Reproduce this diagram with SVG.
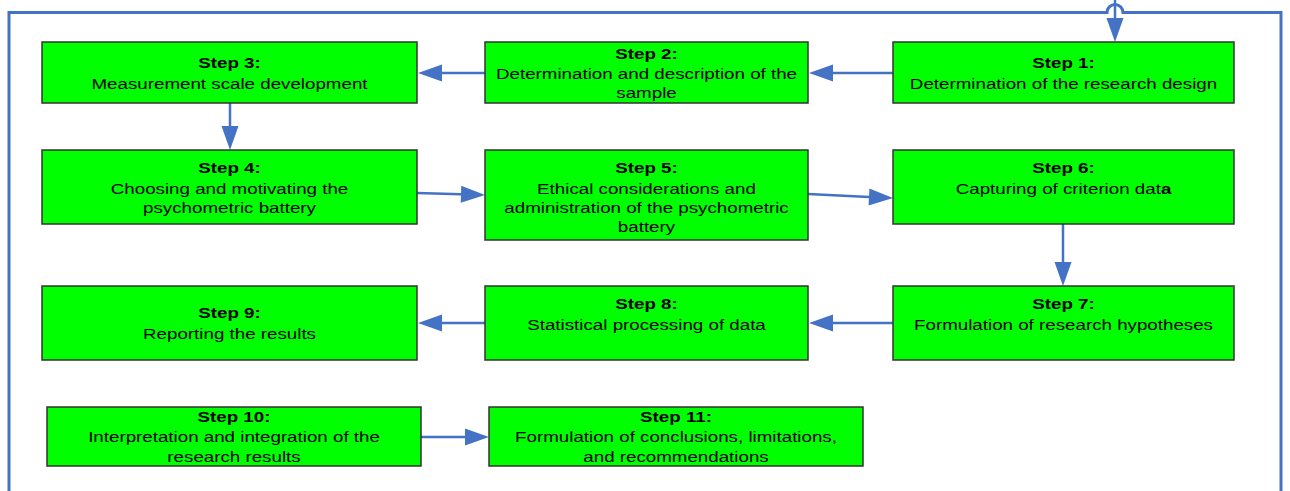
<svg xmlns="http://www.w3.org/2000/svg" width="1290" height="491" viewBox="0 0 1290 491">
<defs>
<style>
.box{fill:#00FF00;stroke:#333333;stroke-width:1.5}
.t{font-family:"Liberation Sans",Arial,sans-serif;font-size:15px;fill:#000;text-anchor:middle}
.b{font-weight:bold}
.c{fill:none;stroke:#4472C4;stroke-width:2.5}
.f{fill:none;stroke:#4472C4;stroke-width:3}
</style>
<marker id="ah" markerUnits="userSpaceOnUse" markerWidth="25" markerHeight="17" refX="0" refY="8.5" orient="auto" overflow="visible">
<path d="M0,0 L24,8.5 L0,17 Z" fill="#4472C4"/>
</marker>
</defs>
<rect width="1290" height="491" fill="#ffffff"/>
<g id="connectors">
<path class="f" d="M9,491 L9,12.5 L1107,12.5 A8,8 0 0 1 1123,12.5 L1281,12.5 L1281,491"/>
<line class="c" x1="1115" y1="0" x2="1115" y2="18" marker-end="url(#ah)"/>
<line class="c" x1="485" y1="73" x2="442" y2="73" marker-end="url(#ah)"/>
<line class="c" x1="893" y1="73" x2="833" y2="73" marker-end="url(#ah)"/>
<line class="c" x1="230" y1="103" x2="230" y2="126" marker-end="url(#ah)"/>
<line class="c" x1="417" y1="193" x2="461" y2="194.3" marker-end="url(#ah)"/>
<line class="c" x1="808" y1="194" x2="869" y2="196.9" marker-end="url(#ah)"/>
<line class="c" x1="1063" y1="224" x2="1063" y2="262" marker-end="url(#ah)"/>
<line class="c" x1="893" y1="323" x2="833" y2="323" marker-end="url(#ah)"/>
<line class="c" x1="485" y1="323" x2="442" y2="323" marker-end="url(#ah)"/>
<line class="c" x1="421" y1="437" x2="465" y2="437" marker-end="url(#ah)"/>
</g>
<g id="step1">
<rect class="box" x="893" y="42" width="341" height="61"/>
<text class="t" transform="translate(1063.5,0) scale(1.25,1)"><tspan class="b" x="0" y="68">Step 1:</tspan><tspan x="0" y="89">Determination of the research design</tspan></text>
</g>
<g id="step2">
<rect class="box" x="485" y="42" width="323" height="61"/>
<text class="t" transform="translate(646.5,0) scale(1.25,1)"><tspan class="b" x="0" y="59">Step 2:</tspan><tspan x="0" y="79">Determination and description of the</tspan><tspan x="0" y="98">sample</tspan></text>
</g>
<g id="step3">
<rect class="box" x="42" y="42" width="375" height="61"/>
<text class="t" transform="translate(229.5,0) scale(1.25,1)"><tspan class="b" x="0" y="68">Step 3:</tspan><tspan x="0" y="89">Measurement scale development</tspan></text>
</g>
<g id="step4">
<rect class="box" x="42" y="150" width="375" height="74"/>
<text class="t" transform="translate(229.5,0) scale(1.25,1)"><tspan class="b" x="0" y="173">Step 4:</tspan><tspan x="0" y="194">Choosing and motivating the</tspan><tspan x="0" y="213.5">psychometric battery</tspan></text>
</g>
<g id="step5">
<rect class="box" x="485" y="150" width="323" height="90"/>
<text class="t" transform="translate(646.5,0) scale(1.25,1)"><tspan class="b" x="0" y="173">Step 5:</tspan><tspan x="0" y="194">Ethical considerations and</tspan><tspan x="0" y="213.5">administration of the psychometric</tspan><tspan x="0" y="232.5">battery</tspan></text>
</g>
<g id="step6">
<rect class="box" x="893" y="150" width="341" height="74"/>
<text class="t" transform="translate(1063.5,0) scale(1.25,1)"><tspan class="b" x="0" y="173">Step 6:</tspan><tspan x="0" y="194">Capturing of criterion dat<tspan class="b">a</tspan></tspan></text>
</g>
<g id="step7">
<rect class="box" x="893" y="286" width="341" height="74"/>
<text class="t" transform="translate(1063.5,0) scale(1.25,1)"><tspan class="b" x="0" y="309">Step 7:</tspan><tspan x="0" y="330.5">Formulation of research hypotheses</tspan></text>
</g>
<g id="step8">
<rect class="box" x="485" y="286" width="323" height="74"/>
<text class="t" transform="translate(646.5,0) scale(1.25,1)"><tspan class="b" x="0" y="309.5">Step 8:</tspan><tspan x="0" y="330.5">Statistical processing of data</tspan></text>
</g>
<g id="step9">
<rect class="box" x="42" y="286" width="375" height="74"/>
<text class="t" transform="translate(229.5,0) scale(1.25,1)"><tspan class="b" x="0" y="318.5">Step 9:</tspan><tspan x="0" y="339">Reporting the results</tspan></text>
</g>
<g id="step10">
<rect class="box" x="47" y="407" width="374" height="59"/>
<text class="t" transform="translate(234,0) scale(1.25,1)"><tspan class="b" x="0" y="422.5">Step 10:</tspan><tspan x="0" y="442.5">Interpretation and integration of the</tspan><tspan x="0" y="462">research results</tspan></text>
</g>
<g id="step11">
<rect class="box" x="489" y="407" width="374" height="59"/>
<text class="t" transform="translate(676,0) scale(1.25,1)"><tspan class="b" x="0" y="422.5">Step 11:</tspan><tspan x="0" y="442.5">Formulation of conclusions, limitations,</tspan><tspan x="0" y="462">and recommendations</tspan></text>
</g>
</svg>
